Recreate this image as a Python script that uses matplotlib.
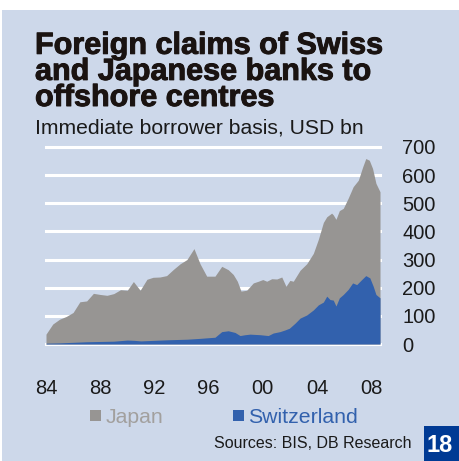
import matplotlib.pyplot as plt
import matplotlib.patheffects as pe
from matplotlib.patches import Rectangle

BG = '#cdd8ea'
GREY = '#979593'
BLUE = '#3261ad'
BOX = '#003a94'

# Japan (gray area), USD bn
japan_years = [1984.0, 1984.5, 1985.0, 1985.5, 1986.0, 1986.5, 1987.0, 1987.5,
               1988.0, 1988.5, 1989.0, 1989.5, 1990.0, 1990.45, 1990.95, 1991.45,
               1991.9, 1992.4, 1992.9, 1993.4, 1993.9, 1994.4, 1994.92, 1995.37,
               1995.86, 1996.47, 1996.97, 1997.45, 1997.82, 1998.12, 1998.39, 1998.81,
               1999.3, 1999.67, 2000.0, 2000.29, 2000.66, 2001.03, 2001.4, 2001.71,
               2002.0, 2002.25, 2002.75, 2003.24, 2003.73, 2004.1, 2004.47, 2004.72,
               2005.08, 2005.2, 2005.4, 2005.65, 2005.94, 2006.3, 2006.67, 2007.05,
               2007.37, 2007.6, 2007.86, 2008.1, 2008.35, 2008.65]
japan = [35, 71, 88, 98, 112, 150, 153, 180,
         176, 173, 179, 193, 191, 222, 191, 230,
         237, 238, 243, 265, 285, 300, 339, 285,
         241, 241, 276, 264, 247, 223, 188, 191,
         217, 223, 229, 223, 232, 231, 238, 205,
         226, 223, 262, 285, 322, 372, 432, 452,
         465, 459, 443, 474, 482, 518, 559, 582,
         629, 659, 653, 624, 571, 541]

# Switzerland (blue area), USD bn
swiss_years = [1984.0, 1985.0, 1986.0, 1987.0, 1988.0, 1989.0, 1990.0, 1990.5,
               1991.0, 1992.0, 1993.0, 1994.4, 1995.37, 1995.9, 1996.47, 1996.97,
               1997.45, 1997.95, 1998.32, 1998.69, 1999.06, 1999.8, 2000.4, 2000.77,
               2001.27, 2001.64, 2001.96, 2002.38, 2002.75, 2003.24, 2003.73, 2004.1,
               2004.47, 2004.72, 2004.96, 2005.2, 2005.4, 2005.65, 2005.94, 2006.3,
               2006.63, 2006.93, 2007.3, 2007.6, 2007.9, 2008.15, 2008.35, 2008.65]
swiss = [3, 4, 6, 8, 9, 10, 14, 13,
         11, 13, 15, 17, 20, 22, 24, 44,
         47, 41, 30, 33, 35, 33, 30, 39,
         44, 50, 56, 74, 92, 103, 121, 139,
         149, 170, 158, 156, 135, 164, 176, 194,
         217, 211, 229, 243, 235, 205, 176, 164]

y_ticks = [0, 100, 200, 300, 400, 500, 600, 700]
x_ticks = [1984, 1988, 1992, 1996, 2000, 2004, 2008]
x_labels = ['84', '88', '92', '96', '00', '04', '08']

plt.rcParams['font.family'] = ['Liberation Sans', 'DejaVu Sans']

fig = plt.figure(figsize=(4.59, 4.61), dpi=100)
fig.patch.set_facecolor('white')
fig.patches.append(Rectangle((2 / 459, 0), 1, 1 - 10 / 461, transform=fig.transFigure,
                             facecolor=BG, edgecolor='none', zorder=-10))

ax = fig.add_axes([46 / 459, 1 - 344 / 461, 334 / 459, 197 / 461])
ax.set_facecolor('none')
ax.fill_between(japan_years, 0, japan, color=GREY, lw=0, zorder=2)
ax.fill_between(swiss_years, 0, swiss, color=BLUE, lw=0, zorder=3)

ax.set_xlim(1984, 2008.65)
ax.set_ylim(0, 700)
ax.set_yticks(y_ticks)
ax.yaxis.tick_right()
ax.set_xticks(x_ticks)
ax.set_xticklabels(x_labels)
ax.tick_params(axis='y', length=0, pad=16, labelsize=14.5, colors='#1a1a1a')
ax.tick_params(axis='x', length=0, pad=25, labelsize=14.5, colors='#1a1a1a')
for t in y_ticks:
    ax.axhline(t, color='white', lw=2.2, zorder=1, clip_on=False)
for s in ax.spines.values():
    s.set_visible(False)

# titles (baseline of the last line)
fig.text(35 / 459, 1 - 106 / 461, 'Foreign claims of Swiss\nand Japanese banks to\noffshore centres',
         fontsize=22, fontweight='bold', va='baseline', ha='left', linespacing=0.83,
         color='#1a1311', path_effects=[pe.withStroke(linewidth=0.7, foreground='#1a1311')])
fig.text(35 / 459, 1 - 133 / 461, 'Immediate borrower basis, USD bn',
         fontsize=15.2, va='baseline', ha='left', color='#1a1a1a')

# legend
fig.patches.append(Rectangle((90 / 459, 1 - 421 / 461), 11 / 459, 11 / 461,
                             transform=fig.transFigure, facecolor=GREY, edgecolor='none'))
fig.text(106 / 459, 1 - 423 / 461, 'Japan', fontsize=15.3, color='#a2a09e', va='baseline')
fig.patches.append(Rectangle((233 / 459, 1 - 421 / 461), 11 / 459, 11 / 461,
                             transform=fig.transFigure, facecolor=BLUE, edgecolor='none'))
fig.text(248 / 459, 1 - 423 / 461, 'Switzerland', fontsize=15.3, color=BLUE, va='baseline')

# source and page box
fig.text(412 / 459, 1 - 448 / 461, 'Sources: BIS, DB Research', fontsize=11.5,
         color='#1a1a1a', ha='right', va='baseline')
fig.patches.append(Rectangle((424 / 459, 0), 35 / 459, 35 / 461, transform=fig.transFigure,
                             facecolor=BOX, edgecolor='none'))
fig.text(440 / 459, 1 - 452 / 461, '18', fontsize=17, fontweight='bold', color='white',
         ha='center', va='baseline')

fig.savefig('out.png', dpi=100, facecolor=fig.get_facecolor())
